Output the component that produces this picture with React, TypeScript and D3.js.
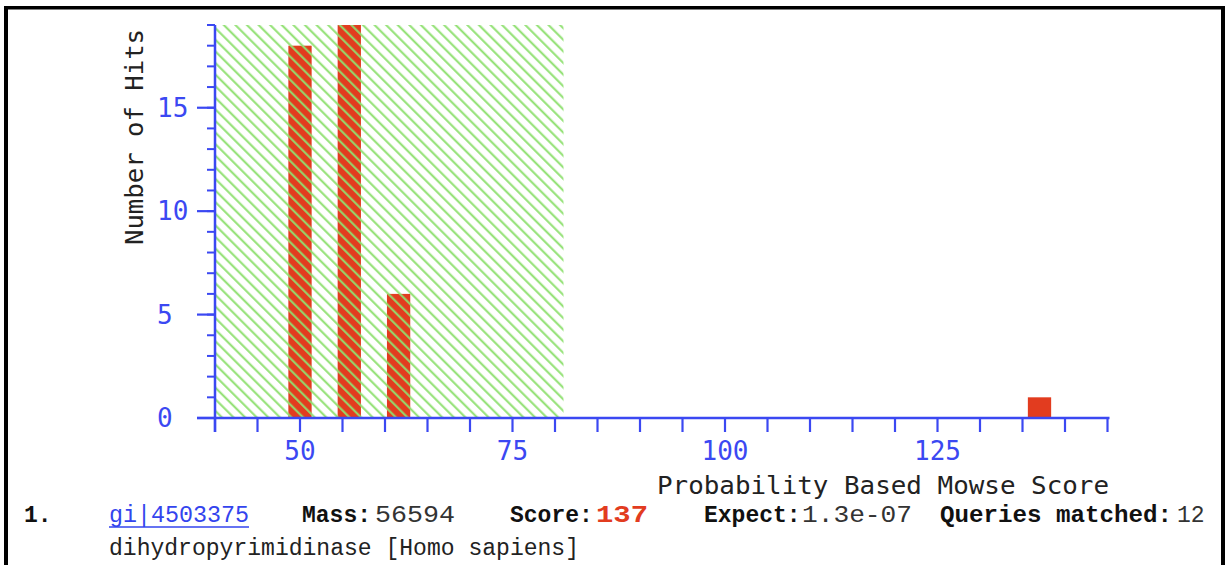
import React from "react";
import * as d3 from "d3";

// Histogram of protein scores (Mascot-style) with the random-match zone shaded.
const binCenters: number[] = [50, 55.8, 61.6, 137];
const hitCounts: number[] = [18, 19, 6, 1];
const binWidthUnits = 2.74;

const xTickValues: number[] = d3.range(40, 146, 5);
const xTickLabels: number[] = [50, 75, 100, 125];
const yMinorTicks: number[] = d3.range(0, 20, 1);
const yMajorTicks: number[] = [0, 5, 10, 15];
const thresholdScore = 81;

const W = 1225;
const H = 565;
const BLUE = "#3b48f2";
const RED = "#e23c1f";
const GREEN = "#8fe070";

export default function App() {
  const x = d3.scaleLinear().domain([40, 145]).range([215, 1107.5]);
  const y = d3.scaleLinear().domain([0, 19]).range([418, 25]);
  const bw = x(40 + binWidthUnits) - x(40);

  const axisFont = "'DejaVu Sans Mono', monospace";
  const textFont = "'Liberation Mono', 'Courier New', monospace";

  return (
    <div style={{ position: "absolute", left: 0, top: 0 }}>
      <svg width={W} height={H} style={{ display: "block", background: "#fff" }}>
        <defs>
          <pattern
            id="hatch"
            patternUnits="userSpaceOnUse"
            width={8.2}
            height={8.2}
            patternTransform="rotate(-45)"
          >
            <line x1={1.2} y1={0} x2={1.2} y2={8.2} stroke={GREEN} strokeWidth={2} />
          </pattern>
        </defs>

        {/* frame */}
        <rect x={5} y={6} width={1220} height={3.5} fill="#000" />
        <rect x={4} y={6} width={4} height={H - 6} fill="#000" />
        <rect x={1221} y={6} width={4} height={H - 6} fill="#000" />

        {/* bars */}
        {binCenters.map((c, i) => (
          <rect
            key={i}
            x={x(c) - bw / 2}
            y={y(hitCounts[i])}
            width={bw}
            height={y(0) - y(hitCounts[i])}
            fill={RED}
          />
        ))}

        {/* shaded zone of random matches, drawn over the bars */}
        <rect
          x={x(40)}
          y={y(19)}
          width={x(thresholdScore) - x(40)}
          height={y(0) - y(19)}
          fill="url(#hatch)"
        />

        {/* y axis */}
        <line x1={x(40)} y1={y(19)} x2={x(40)} y2={y(0) + 14} stroke={BLUE} strokeWidth={2.5} />
        {yMinorTicks.map((t) => (
          <line key={"ym" + t} x1={x(40) - 8} x2={x(40)} y1={y(t)} y2={y(t)} stroke={BLUE} strokeWidth={2} />
        ))}
        {yMajorTicks.map((t) => (
          <g key={"yM" + t}>
            <line x1={x(40) - 18} x2={x(40)} y1={y(t)} y2={y(t)} stroke={BLUE} strokeWidth={2.2} />
            <text
              x={157}
              y={y(t)}
              dominantBaseline="central"
              fill={BLUE}
              fontFamily={axisFont}
              fontSize={26}
            >
              {t}
            </text>
          </g>
        ))}

        {/* x axis */}
        <line x1={x(40) - 18} x2={x(145) + 2} y1={y(0)} y2={y(0)} stroke={BLUE} strokeWidth={2.5} />
        {xTickValues.map((t) => (
          <line key={"xt" + t} x1={x(t)} x2={x(t)} y1={y(0)} y2={y(0) + 14} stroke={BLUE} strokeWidth={2.2} />
        ))}
        {xTickLabels.map((t) => (
          <text
            key={"xl" + t}
            x={x(t)}
            y={451}
            textAnchor="middle"
            dominantBaseline="central"
            fill={BLUE}
            fontFamily={axisFont}
            fontSize={26}
          >
            {t}
          </text>
        ))}

        {/* axis titles */}
        <text
          x={657}
          y={494}
          fill="#222"
          fontFamily={axisFont}
          fontSize={25}
          textLength={452}
          lengthAdjust="spacingAndGlyphs"
        >
          Probability Based Mowse Score
        </text>
        <text
          transform="translate(143,245) rotate(-90)"
          x={0}
          y={0}
          fill="#222"
          fontFamily={axisFont}
          fontSize={25}
          textLength={216}
          lengthAdjust="spacingAndGlyphs"
        >
          Number of Hits
        </text>

        {/* hit summary */}
        <g fontFamily={textFont} fontSize={23}>
          <text x={24} y={522} fontWeight="bold" fill="#111">1.</text>
          <text x={109} y={522} fill="#3344ee" textLength={140} lengthAdjust="spacingAndGlyphs">gi|4503375</text>
          <line x1={109} x2={249} y1={527} y2={527} stroke="#3344ee" strokeWidth={1.3} />
          <text x={302} y={522} fontWeight="bold" fill="#111">Mass:</text>
          <text x={375} y={522} fill="#333" textLength={80} lengthAdjust="spacingAndGlyphs">56594</text>
          <text x={510} y={522} fontWeight="bold" fill="#111">Score:</text>
          <text x={596} y={522} fontWeight="bold" fill={RED} textLength={52} lengthAdjust="spacingAndGlyphs">137</text>
          <text x={704} y={522} fontWeight="bold" fill="#111">Expect:</text>
          <text x={802} y={522} fill="#333" textLength={110} lengthAdjust="spacingAndGlyphs">1.3e-07</text>
          <text x={940} y={522} fontWeight="bold" fill="#111" textLength={232} lengthAdjust="spacingAndGlyphs">Queries matched:</text>
          <text x={1177} y={522} fill="#333">12</text>
          <text x={109} y={555} fill="#222" textLength={470} lengthAdjust="spacingAndGlyphs">dihydropyrimidinase [Homo sapiens]</text>
        </g>
      </svg>
    </div>
  );
}
